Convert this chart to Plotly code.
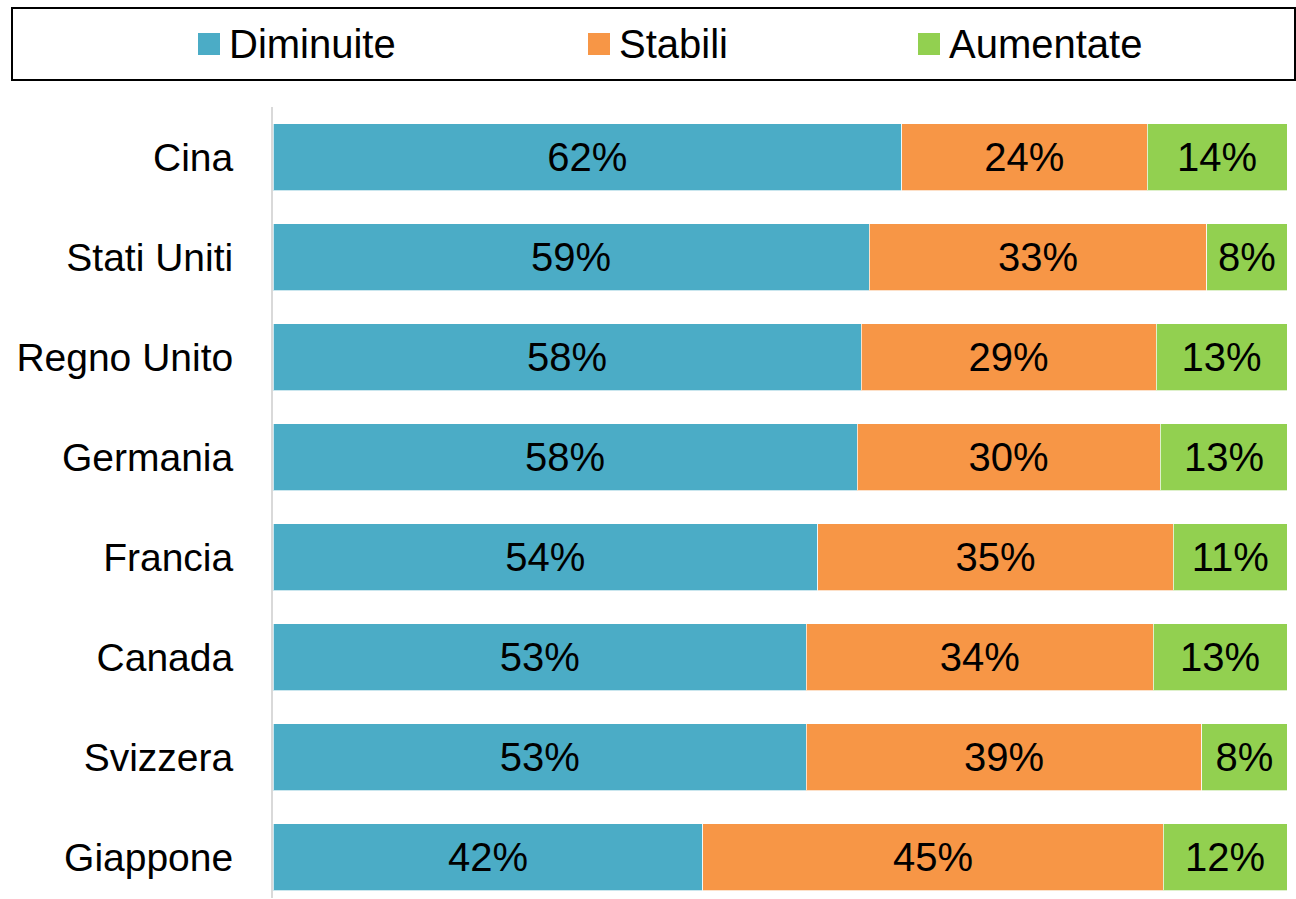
import plotly.graph_objects as go

countries = ["Cina", "Stati Uniti", "Regno Unito", "Germania", "Francia", "Canada", "Svizzera", "Giappone"]
diminuite = [62.0, 58.8, 58.0, 57.6, 53.7, 52.6, 52.6, 42.4]
stabili = [24.2, 33.3, 29.1, 29.9, 35.1, 34.2, 39.0, 45.4]
aumentate = [13.8, 7.9, 12.9, 12.6, 11.2, 13.2, 8.4, 12.2]
series_names = ["Diminuite", "Stabili", "Aumentate"]
colors = ["#4BACC6", "#F79646", "#92D050"]

FONT = "Liberation Sans, Arial, sans-serif"

fig = go.Figure()
for name, vals, col in zip(series_names, [diminuite, stabili, aumentate], colors):
    fig.add_trace(go.Bar(
        y=countries, x=vals, name=name, orientation="h",
        marker=dict(color=col, line=dict(color="rgba(255,255,255,0.7)", width=1)),
        width=0.67,
        texttemplate="%{x:.0f}%", textposition="inside", insidetextanchor="middle",
        textangle=0,
        textfont=dict(size=40, color="black", family=FONT),
        showlegend=False,
    ))

W, H = 1296, 899
L, R, T, B = 273, 9, 107, 1
pw, ph = W - L - R, H - T - B

def px(x):
    return (x - L) / pw

def py(y):
    return (H - B - y) / ph

shapes = [dict(type="rect", xref="paper", yref="paper",
               x0=px(12), x1=px(1295), y0=py(80), y1=py(8),
               line=dict(color="black", width=2), fillcolor="rgba(0,0,0,0)")]
annotations = []
legend_x = [198, 588, 918]
for name, col, lx in zip(series_names, colors, legend_x):
    shapes.append(dict(type="rect", xref="paper", yref="paper",
                       x0=px(lx), x1=px(lx + 22), y0=py(55), y1=py(33),
                       line=dict(width=0), fillcolor=col))
    annotations.append(dict(xref="paper", yref="paper", x=px(lx + 29), y=py(44),
                            text=name, showarrow=False, xanchor="left", yanchor="middle",
                            font=dict(size=40, color="black", family=FONT)))

fig.update_layout(
    width=W, height=H,
    margin=dict(l=L, r=R, t=T, b=B),
    barmode="stack",
    paper_bgcolor="white", plot_bgcolor="white",
    font=dict(family=FONT, color="black"),
    shapes=shapes, annotations=annotations,
    uniformtext=dict(minsize=40, mode="show"),
    xaxis=dict(range=[0, 100], visible=False, showgrid=False, zeroline=False),
    yaxis=dict(categoryorder="array", categoryarray=countries,
               range=[7.41, -0.5], showgrid=False, zeroline=False,
               showline=True, linecolor="#D9D9D9", linewidth=2,
               ticks="", ticklabelstandoff=30,
               tickfont=dict(size=39, color="black", family=FONT)),
)

fig.write_html("out.html", config={"displayModeBar": False},
               post_script="document.body.style.margin='0';document.body.style.overflow='hidden';")
